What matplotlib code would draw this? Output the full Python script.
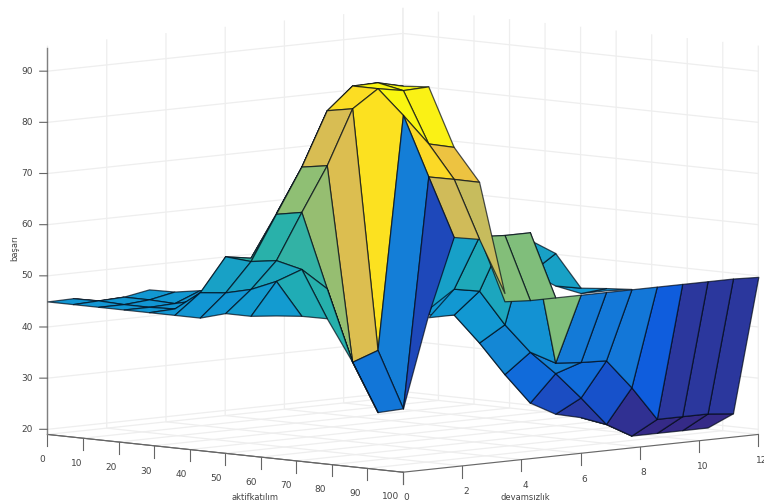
import matplotlib
matplotlib.use("Agg")
import matplotlib.pyplot as plt
import numpy as np
from matplotlib.colors import LinearSegmentedColormap, Normalize
from matplotlib.ticker import NullFormatter
from mpl_toolkits.mplot3d import proj3d
from mpl_toolkits.mplot3d.art3d import Poly3DCollection

n = np.nan

aktif = [0, 7.14, 14.29, 21.43, 28.57, 35.71, 42.86, 50, 57.14, 64.29, 71.43, 78.57, 85.71, 92.86, 100]
devamsiz = [0, 0.857, 1.714, 2.571, 3.429, 4.286, 5.143, 6, 6.857, 7.714, 8.571, 9.429, 10.286, 11.143, 12]

# one row per aktif value, one column per devamsiz value, nan where the surface has no data
basari = np.array([
    [45, 45.1, 44.1, n, n, n, n, n, n, n, n, n, n, n, n],
    [45, 45.2, 45.4, 46.3, n, n, n, n, n, n, n, n, n, n, n],
    [45, 45, 45.4, 46.4, n, n, n, n, n, n, n, n, n, n, n],
    [45, 45, 45.2, 47.2, n, n, n, n, n, n, n, n, n, n, n],
    [45, 45.2, 46.4, 47.8, n, n, n, n, n, n, n, n, n, n, n],
    [45, 48.9, 55.4, 54.6, 62.8, 71.3, 81.7, 86, 86.1, n, n, n, n, n, n],
    [45, 49.4, 55, 63.7, 72.4, 82.9, 87.2, 87.3, 86.1, n, n, n, n, n, n],
    [46.4, 50.6, 55.7, 64.6, 73.2, 83.8, 87.2, 86.3, 86.5, n, n, n, n, n, n],
    [46.4, 52.7, 54.5, 50.2, 35.3, 37.1, 82.5, 76.4, 75.2, n, 49, 49, 46, 44, 44],
    [47, 46.4, 45.4, 36.4, 26, 26.2, 71, 70, 68.9, n, 56.5, 53.4, 46.1, 45.5, 44.8],
    [n, n, n, n, n, 45.1, 59.7, 58.8, 47.7, n, n, n, n, n, n],
    [n, n, n, n, 45.6, 45.6, 39.6, 32.9, 26.8, 24.1, 22.9, 21, n, n, n],
    [n, n, n, 48.3, 51.7, 50.8, 43.7, 37.8, 33.1, 27.8, 22.1, 19.3, 19.3, 19.3, 19.3],
    [n, n, n, 63.1, 62.5, 62.2, 62.2, 36.2, 35.8, 35.6, 29.8, 23.1, 23.1, 23.1, 22.6],
    [n, n, n, n, 50.3, 50, 50, 50, 50, 50, 50, 50, 50, 50, 49.8],
])

x_ticks = [0, 10, 20, 30, 40, 50, 60, 70, 80, 90, 100]
y_ticks = [0, 2, 4, 6, 8, 10, 12]
z_ticks = [20, 30, 40, 50, 60, 70, 80, 90]

parula = LinearSegmentedColormap.from_list("parula", [
    "#352a87", "#0f5cdd", "#1481d6", "#129ad2", "#24b0ad",
    "#87bf77", "#d1bb59", "#fec832", "#f9fb0e"])
norm = Normalize(21, 88)

fig = plt.figure(figsize=(7.64, 5.01), dpi=100)
ax = fig.add_subplot(projection="3d", proj_type="ortho", computed_zorder=False)
ax.set_position([0.0185, 0.0074, 1, 1])
ax.view_init(elev=6.1, azim=-45)
ax.set_box_aspect((1, 1, 0.778), zoom=1.572)
ax.set_xlim(0, 100)
ax.set_ylim(0, 12)
ax.set_zlim(19, 95)
ax.patch.set_alpha(0)


def tick_text(x, y, z, label):
    # flat text at the projected spot of a 3d point
    px, py, _ = proj3d.proj_transform(x, y, z, ax.get_proj())
    ax.text2D(px, py, label, transform=ax.transData, fontsize=6.5, color="#444444", ha="center", va="center")


# every cell by itself, coloured from its first corner, back cells first
for i in range(len(aktif) - 1):
    for j in range(len(devamsiz) - 1):
        corners = [(i, j), (i + 1, j), (i + 1, j + 1), (i, j + 1)]
        zs = [basari[c] for c in corners]
        if np.any(np.isnan(zs)):
            continue
        verts = [[(aktif[c[0]], devamsiz[c[1]], basari[c]) for c in corners]]
        order = i - j
        if i <= 9 and j <= 7:
            order += 40  # the peak hangs in front of the right hand fold
        cell = Poly3DCollection(verts, facecolors=[parula(norm(basari[i, j]))],
                                edgecolors=[(0, 0.03, 0.08, 0.7)], linewidths=0.9, zorder=order + 50)
        cell.set_clip_on(False)
        ax.add_collection3d(cell)

ax.set_xticks(x_ticks)
ax.set_yticks(y_ticks)
ax.set_zticks(z_ticks)
ax.tick_params(length=0)
ax.zaxis._axinfo["juggled"] = (1, 0, 2)
for axis in (ax.xaxis, ax.yaxis, ax.zaxis):
    axis.set_major_formatter(NullFormatter())
    axis.set_pane_color((1, 1, 1, 1))
    axis.pane.set_edgecolor((1, 1, 1, 0))
    axis.line.set_color("#666666")
    axis._axinfo["grid"]["color"] = "#eeeeee"
    axis._axinfo["grid"]["linewidth"] = 0.9
    axis._axinfo["tick"]["outward_factor"] = 0
    axis._axinfo["tick"]["inward_factor"] = 0

# ticks hang straight down from the floor edge in this view
for v in x_ticks:
    ax.plot([v, v], [0, 0], [19, 16.7], color="#666666", lw=0.8, clip_on=False)
    tick_text(v - 1.6 - v * 0.02, 0, 13.9, str(v))
for v in y_ticks:
    ax.plot([100, 100], [v, v], [19, 16.7], color="#666666", lw=0.8, clip_on=False)
    tick_text(100, v + 0.12, 13.9, str(v))
ax.plot([0, 0], [0, 0], [19, 94.5], color="#808080", lw=1.0, clip_on=False)
for v in z_ticks:
    ax.plot([-1.1, 0], [-0.13, 0], [v, v], color="#666666", lw=0.8, clip_on=False)
    tick_text(-2.9, -0.35, v, str(v))

fig.text(255 / 764, 1 - 497 / 501, "aktifkatılım", fontsize=6, color="#444444", ha="center", va="center")
fig.text(525 / 764, 1 - 497 / 501, "devamsızlık", fontsize=6, color="#444444", ha="center", va="center")
fig.text(15 / 764, 1 - 248 / 501, "başarı", fontsize=6, color="#444444", ha="center", va="center", rotation=90)

fig.savefig("out.png", dpi=100)
